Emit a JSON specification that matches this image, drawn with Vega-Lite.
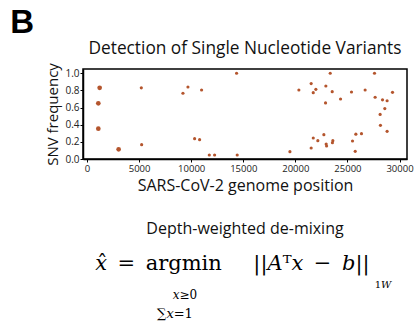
{
  "$schema": "https://vega.github.io/schema/vega-lite/v6.json",
  "background": "white",
  "padding": {"left": 10, "top": 6, "right": 0, "bottom": 0},
  "title": {"text": "B", "anchor": "start", "frame": "bounds", "fontSize": 33, "fontWeight": "bold", "font": "Liberation Sans", "color": "black", "dx": -35, "offset": 0},
  "config": {"font": "Open Sans", "view": {"stroke": null}},
  "spacing": 26,
  "vconcat": [
    {
      "width": 324,
      "height": 90,
      "title": {"text": "Detection of Single Nucleotide Variants", "fontSize": 17.3, "fontWeight": "normal", "font": "Open Sans", "color": "#111", "offset": 5},
      "view": {"stroke": "black", "strokeWidth": 1.5},
      "data": {"values": [
        {"position": 1215, "frequency": 0.83, "n": 2},
        {"position": 1087, "frequency": 0.65, "n": 2},
        {"position": 1087, "frequency": 0.354, "n": 2},
        {"position": 3038, "frequency": 0.113, "n": 2},
        {"position": 5213, "frequency": 0.83, "n": 1},
        {"position": 5245, "frequency": 0.167, "n": 1},
        {"position": 9210, "frequency": 0.767, "n": 1},
        {"position": 9690, "frequency": 0.84, "n": 1},
        {"position": 11000, "frequency": 0.805, "n": 1},
        {"position": 10330, "frequency": 0.237, "n": 1},
        {"position": 10810, "frequency": 0.226, "n": 1},
        {"position": 11740, "frequency": 0.047, "n": 1},
        {"position": 12250, "frequency": 0.047, "n": 1},
        {"position": 14360, "frequency": 1.0, "n": 1},
        {"position": 14420, "frequency": 0.047, "n": 1},
        {"position": 19480, "frequency": 0.086, "n": 1},
        {"position": 20340, "frequency": 0.805, "n": 1},
        {"position": 21520, "frequency": 0.88, "n": 1},
        {"position": 21720, "frequency": 0.774, "n": 1},
        {"position": 21970, "frequency": 0.813, "n": 1},
        {"position": 21720, "frequency": 0.245, "n": 1},
        {"position": 21520, "frequency": 0.128, "n": 1},
        {"position": 22160, "frequency": 0.214, "n": 1},
        {"position": 22740, "frequency": 0.284, "n": 1},
        {"position": 22900, "frequency": 0.654, "n": 1},
        {"position": 22930, "frequency": 0.852, "n": 1},
        {"position": 23350, "frequency": 1.0, "n": 1},
        {"position": 22960, "frequency": 0.175, "n": 1},
        {"position": 23000, "frequency": 0.152, "n": 1},
        {"position": 23540, "frequency": 0.786, "n": 1},
        {"position": 23600, "frequency": 0.214, "n": 1},
        {"position": 23560, "frequency": 0.19, "n": 1},
        {"position": 24340, "frequency": 0.70, "n": 1},
        {"position": 25390, "frequency": 0.782, "n": 1},
        {"position": 25490, "frequency": 0.21, "n": 1},
        {"position": 25810, "frequency": 0.29, "n": 1},
        {"position": 25750, "frequency": 0.089, "n": 1},
        {"position": 26350, "frequency": 0.296, "n": 1},
        {"position": 26700, "frequency": 0.805, "n": 1},
        {"position": 27600, "frequency": 1.0, "n": 1},
        {"position": 27660, "frequency": 0.72, "n": 1},
        {"position": 28370, "frequency": 0.69, "n": 1},
        {"position": 28810, "frequency": 0.68, "n": 1},
        {"position": 28590, "frequency": 0.588, "n": 1},
        {"position": 28140, "frequency": 0.52, "n": 1},
        {"position": 28170, "frequency": 0.393, "n": 1},
        {"position": 28810, "frequency": 0.323, "n": 1},
        {"position": 29330, "frequency": 0.778, "n": 1}
      ]},
      "mark": {"type": "circle", "color": "#b4552d", "opacity": 1},
      "encoding": {
        "x": {
          "field": "position", "type": "quantitative",
          "scale": {"domain": [-384, 30720], "nice": false, "zero": false},
          "axis": {"title": "SARS-CoV-2 genome position", "values": [0, 5000, 10000, 15000, 20000, 25000, 30000], "format": "d", "grid": false, "domainColor": "black", "domainWidth": 1.5, "tickColor": "black", "tickSize": 3, "labelFontSize": 9.5, "labelColor": "#222", "labelPadding": 1, "titleFontSize": 16, "titleFontWeight": "normal", "titleColor": "#111", "titlePadding": 5}
        },
        "y": {
          "field": "frequency", "type": "quantitative",
          "scale": {"domain": [0, 1.05], "nice": false, "zero": false},
          "axis": {"title": "SNV frequency", "values": [0, 0.2, 0.4, 0.6, 0.8, 1.0], "format": ".1f", "grid": false, "domainColor": "black", "domainWidth": 1.5, "tickColor": "black", "tickSize": 3, "labelFontSize": 10, "labelColor": "#222", "labelPadding": 1, "titleFontSize": 15, "titleFontWeight": "normal", "titleColor": "#111", "titlePadding": 4}
        },
        "size": {"field": "n", "type": "quantitative", "scale": {"domain": [1, 2], "range": [10, 22]}, "legend": null}
      }
    },
    {
      "width": 324,
      "height": 34,
      "title": {"text": "Depth-weighted de-mixing", "subtitle": "𝑥̂\u2002=\u2002argmin\u2003\u2002||𝐴ᵀ𝑥\u2002−\u2002𝑏||\u2003\u2009\u200B", "fontSize": 16, "fontWeight": "normal", "font": "Open Sans", "color": "#111", "subtitleFont": "DejaVu Serif", "subtitleFontSize": 21, "subtitleColor": "black", "subtitlePadding": 16, "offset": 0},
      "layer": [
        {
          "data": {"values": [{"t": "𝑥≥0"}]},
          "mark": {"type": "text", "font": "DejaVu Serif", "fontSize": 12, "color": "black", "dx": -60, "dy": 8, "baseline": "alphabetic"},
          "encoding": {"text": {"field": "t"}}
        },
        {
          "data": {"values": [{"t": "∑𝑥=1"}]},
          "mark": {"type": "text", "font": "DejaVu Serif", "fontSize": 13, "color": "black", "dx": -70, "dy": 27, "baseline": "alphabetic"},
          "encoding": {"text": {"field": "t"}}
        },
        {
          "data": {"values": [{"t": "1𝑊"}]},
          "mark": {"type": "text", "font": "DejaVu Serif", "fontSize": 10, "color": "black", "dx": 138, "dy": -3, "baseline": "alphabetic"},
          "encoding": {"text": {"field": "t"}}
        }
      ]
    }
  ]
}
